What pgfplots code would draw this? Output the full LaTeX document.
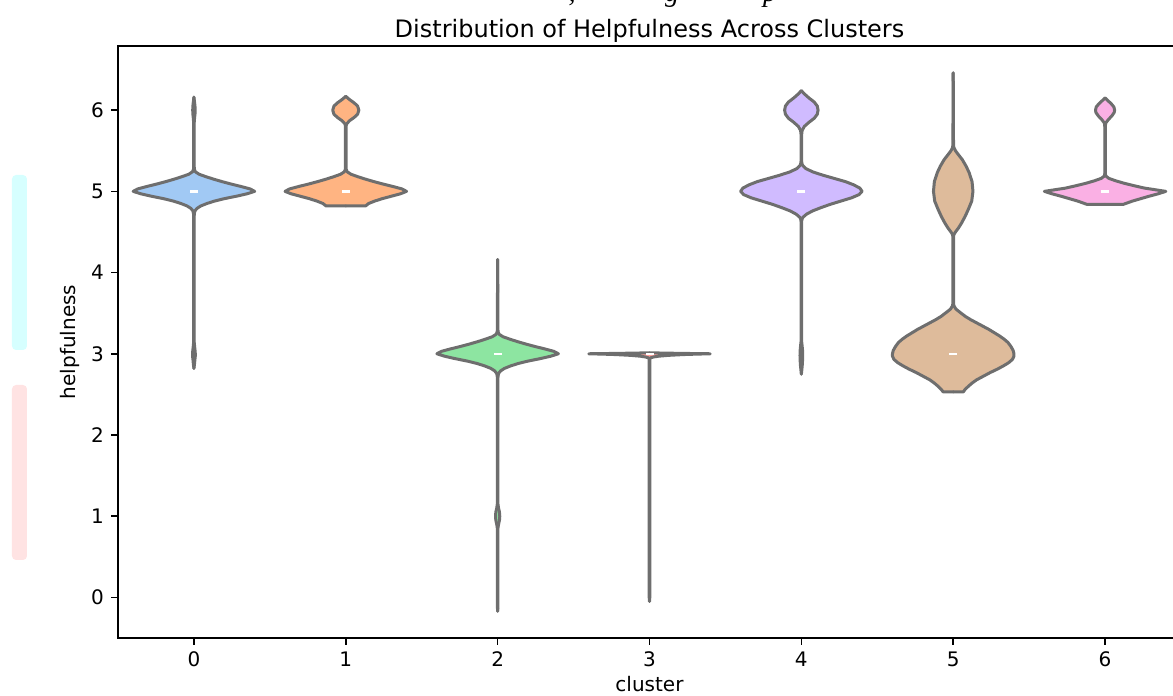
\documentclass[border=0pt]{standalone}
\usepackage{pgfplots}
\pgfplotsset{compat=1.18}
\usepgfplotslibrary{fillbetween}
\usepackage{pgfplotstable}
\usepackage{fontspec}
\setmainfont{DejaVu Sans}
\newfontfamily\capfont{Liberation Serif}

\definecolor{vA}{HTML}{A1C9F4}
\definecolor{vB}{HTML}{FFB482}
\definecolor{vC}{HTML}{8DE5A1}
\definecolor{vD}{HTML}{FF9F9B}
\definecolor{vE}{HTML}{D0BBFF}
\definecolor{vF}{HTML}{DEBB9B}
\definecolor{vG}{HTML}{FAB0E4}
\definecolor{vline}{HTML}{6E6E6E}
\definecolor{stripcyan}{HTML}{D6FFFF}
\definecolor{strippink}{HTML}{FFE3E3}

% violin outlines: y = helpfulness, w = half-width (category units)
\pgfplotstableread{
y w
2.82 0
2.86 0.003
2.92 0.006
2.97 0.009
3.00 0.009
3.03 0.008
3.08 0.005
3.14 0.002
3.20 0.002
4.70 0.002
4.73 0.003
4.76 0.007
4.79 0.020
4.82 0.045
4.85 0.085
4.88 0.135
4.91 0.200
4.94 0.280
4.97 0.350
5.00 0.400
5.03 0.370
5.06 0.310
5.09 0.245
5.12 0.185
5.15 0.130
5.18 0.080
5.21 0.035
5.24 0.010
5.27 0.003
5.30 0.002
5.85 0.002
5.90 0.004
5.95 0.007
6.00 0.008
6.05 0.007
6.10 0.004
6.16 0
}\violinA

\pgfplotstableread{
y w
4.82 0
4.82 0.130
4.85 0.150
4.88 0.190
4.91 0.240
4.94 0.300
4.97 0.360
5.00 0.400
5.03 0.370
5.06 0.310
5.09 0.245
5.12 0.185
5.15 0.130
5.18 0.080
5.21 0.035
5.24 0.010
5.27 0.003
5.30 0.002
5.80 0.002
5.83 0.005
5.87 0.025
5.91 0.055
5.95 0.078
6.00 0.086
6.05 0.078
6.09 0.055
6.13 0.025
6.17 0
}\violinB

\pgfplotstableread{
y w
-0.17 0
-0.10 0.002
0.85 0.002
0.90 0.006
0.95 0.012
1.00 0.014
1.05 0.012
1.10 0.006
1.15 0.002
2.70 0.002
2.73 0.003
2.76 0.007
2.79 0.020
2.82 0.045
2.85 0.085
2.88 0.135
2.91 0.200
2.94 0.280
2.97 0.350
3.00 0.400
3.03 0.370
3.06 0.310
3.09 0.245
3.12 0.185
3.15 0.130
3.18 0.080
3.21 0.035
3.24 0.010
3.27 0.003
3.30 0.002
4.16 0
}\violinC

\pgfplotstableread{
y w
-0.05 0
0.00 0.002
2.94 0.003
2.95 0.008
2.96 0.025
2.97 0.060
2.98 0.120
2.99 0.220
2.995 0.300
3.00 0.400
3.005 0.200
3.010 0.050
3.012 0
}\violinD

\pgfplotstableread{
y w
2.75 0
2.80 0.003
2.86 0.006
2.92 0.008
2.98 0.009
3.04 0.008
3.10 0.005
3.15 0.002
4.62 0.002
4.65 0.003
4.68 0.010
4.72 0.035
4.76 0.075
4.80 0.130
4.84 0.190
4.88 0.260
4.92 0.330
4.96 0.380
5.00 0.400
5.04 0.385
5.08 0.345
5.12 0.290
5.16 0.215
5.20 0.140
5.24 0.075
5.28 0.030
5.32 0.008
5.35 0.003
5.38 0.002
5.70 0.002
5.75 0.005
5.80 0.020
5.85 0.050
5.90 0.085
5.95 0.105
6.00 0.110
6.05 0.105
6.10 0.085
6.15 0.050
6.20 0.020
6.24 0
}\violinE

\pgfplotstableread{
y w
2.53 0
2.53 0.066
2.56 0.078
2.60 0.100
2.64 0.125
2.68 0.155
2.72 0.195
2.77 0.245
2.81 0.290
2.85 0.330
2.89 0.365
2.93 0.390
2.97 0.400
3.00 0.400
3.04 0.395
3.09 0.380
3.14 0.360
3.18 0.335
3.22 0.305
3.26 0.270
3.30 0.235
3.34 0.195
3.38 0.155
3.42 0.115
3.46 0.080
3.51 0.045
3.55 0.018
3.59 0.005
3.62 0.002
4.44 0.002
4.47 0.005
4.50 0.015
4.55 0.035
4.61 0.055
4.69 0.078
4.78 0.100
4.88 0.122
5.00 0.130
5.12 0.124
5.23 0.105
5.31 0.085
5.39 0.060
5.45 0.035
5.50 0.015
5.54 0.004
5.58 0.002
6.46 0
}\violinF

\pgfplotstableread{
y w
4.84 0
4.84 0.120
4.86 0.150
4.88 0.180
4.91 0.235
4.94 0.290
4.97 0.350
5.00 0.400
5.02 0.330
5.04 0.260
5.07 0.190
5.10 0.125
5.13 0.070
5.16 0.025
5.19 0.004
5.22 0.002
5.80 0.002
5.84 0.004
5.88 0.020
5.93 0.045
5.97 0.060
6.00 0.063
6.04 0.058
6.08 0.040
6.12 0.017
6.15 0
}\violinG

\newcommand{\violin}[4]{% table, center, color, id
  \addplot[vline, line width=1.5pt, line join=round, line cap=round, name path=R#4]
    table[x expr=#2+\thisrow{w}, y=y] {#1};
  \addplot[vline, line width=1.5pt, line join=round, line cap=round, name path=L#4]
    table[x expr=#2-\thisrow{w}, y=y] {#1};
  \addplot[fill=#3, draw=none] fill between[of=R#4 and L#4];
}

\begin{document}
\begin{tikzpicture}
\begin{axis}[
  set layers,
  at={(0,0)}, anchor=south west,
  width=531.5pt, height=296pt, scale only axis,
  xmin=-0.5, xmax=6.5, ymin=-0.5, ymax=6.79,
  xtick={0,1,2,3,4,5,6}, ytick={0,1,2,3,4,5,6},
  xtick pos=bottom, ytick pos=left,
  tick align=outside, major tick length=3.5pt,
  tick style={black, line width=0.8pt},
  axis line style={black, line width=0.8pt},
  /pgf/number format/assume math mode=true,
  tick label style={font=\fontsize{10}{12}\selectfont},
  xlabel={cluster}, ylabel={helpfulness},
  label style={font=\fontsize{10}{12}\selectfont},
  xlabel style={at={(axis description cs:0.5,-0.0912)}, anchor=base},
  ylabel style={at={(axis description cs:-0.0452,0.5)}, anchor=center},
  title={Distribution of Helpfulness Across Clusters},
  title style={font=\fontsize{12}{14}\selectfont, at={(axis description cs:0.5,1)}, anchor=base, inner sep=0pt, yshift=-2pt},
]
\violin{\violinA}{0}{vA}{a}
\violin{\violinB}{1}{vB}{b}
\violin{\violinC}{2}{vC}{c}
\violin{\violinD}{3}{vD}{d}
\violin{\violinE}{4}{vE}{e}
\violin{\violinF}{5}{vF}{f}
\violin{\violinG}{6}{vG}{g}
\addplot[only marks, mark=-, mark size=2pt, mark options={white, line width=1.2pt}]
  coordinates {(0,5) (1,5) (2,3) (3,3) (4,5) (5,3) (6,5)};
\end{axis}
% cropped-off caption line above the figure (only descenders visible)
\node[anchor=base, inner sep=0pt] at (227pt,318pt) {\capfont\itshape\fontsize{14}{16}\selectfont ,};
\node[anchor=base, inner sep=0pt] at (277pt,318pt) {\capfont\itshape\fontsize{14}{16}\selectfont g};
\node[anchor=base, inner sep=0pt] at (326pt,318pt) {\capfont\itshape\fontsize{14}{16}\selectfont p};
% pale strips at the left margin
\fill[stripcyan, rounded corners=2pt] (-53pt,144pt) rectangle (-45.5pt,231.5pt);
\fill[strippink, rounded corners=2pt] (-53pt,39pt) rectangle (-45.5pt,126.5pt);
\pgfresetboundingbox
\path[use as bounding box] (-59pt,-29pt) rectangle (527.5pt,319pt);
\end{tikzpicture}
\end{document}
